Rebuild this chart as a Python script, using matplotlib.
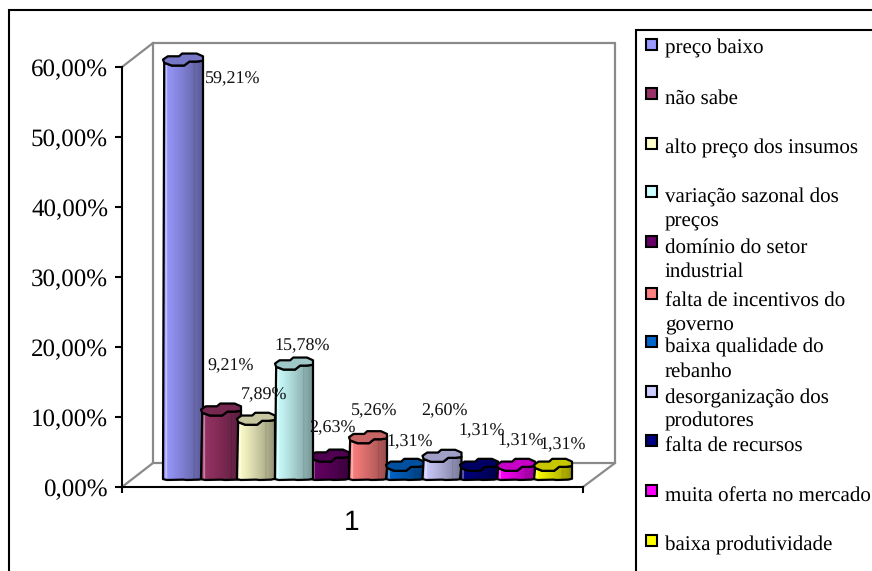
import numpy as np
import matplotlib
matplotlib.use("Agg")
import matplotlib.pyplot as plt
from matplotlib.colors import to_rgb
from matplotlib.patches import Polygon, Rectangle
from matplotlib.ticker import FuncFormatter

# Survey answers and their shares (%)
categories = [
    "preço baixo", "não sabe", "alto preço dos insumos",
    "variação sazonal dos\npreços", "domínio do setor\nindustrial",
    "falta de incentivos do\ngoverno", "baixa qualidade do\nrebanho",
    "desorganização dos\nprodutores", "falta de recursos",
    "muita oferta no mercado", "baixa produtividade",
]
values = [59.21, 9.21, 7.89, 15.78, 2.63, 5.26, 1.31, 2.60, 1.31, 1.31, 1.31]
colors = ["#9999FF", "#993366", "#FFFFCC", "#CCFFFF", "#660066", "#FF8080",
          "#0066CC", "#CCCCFF", "#000080", "#FF00FF", "#FFFF00"]
y_ticks = [0, 10, 20, 30, 40, 50, 60]
x_group = "1"

# Layout, in figure pixels
W, H = 872, 571
DPI = 100
X0, X1 = 122, 583        # front edge of the floor
Y0, Y60 = 487, 67        # 0 % and 60 % on the value axis
PX_PER_UNIT = (Y0 - Y60) / 60
Y_HEADROOM = 66          # axes reach above 60 % so the tallest cylinder is not cut
WALL_X0, WALL_X1, WALL_Y0, WALL_Y1 = 153, 615, 463, 43
bar_centers = [183, 221, 256, 294, 330, 368, 405, 442, 479, 516, 553]
bar_widths = [40, 40, 38, 38, 38, 38, 38, 39, 38, 38, 38]
draw_order = [0, 1, 2, 4, 3, 5, 6, 7, 8, 9, 10]
label_pos = [(205, 79), (207, 366), (241, 395), (274, 346), (309, 428), (351, 411),
             (386, 442), (421, 411), (458, 431), (497, 441), (539, 445)]
swatch_y = [44, 93, 143, 191, 241, 293, 341, 391, 440, 490, 540]
text_y = [54, 104, 154, 203, 253, 306, 353, 403, 451, 501, 551]
LINE_STEP = 24

plt.rcParams["font.family"] = ["Liberation Serif", "DejaVu Serif"]
plt.rcParams["text.hinting"] = "none"
plt.rcParams["text.hinting_factor"] = 1
fig = plt.figure(figsize=(W / DPI, H / DPI), dpi=DPI, facecolor="white")

# Pixel-unit layer: outer frame, back wall and legend
px = fig.add_axes([0, 0, 1, 1], zorder=1)
px.set_xlim(0, W)
px.set_ylim(H, 0)
px.axis("off")
for xs, ys in [([9, 9, W], [H, 10, 10]), ([636, 636, W], [H, 30, 30])]:
    px.plot(xs, ys, color="black", lw=1.5, solid_capstyle="butt", solid_joinstyle="miter")
wall = "#8a8a8a"
for xs, ys in [
    ([X0, WALL_X0, WALL_X1, WALL_X1, X1], [Y60, WALL_Y1, WALL_Y1, WALL_Y0, Y0]),
    ([X0, WALL_X0, WALL_X0], [Y0, WALL_Y0, WALL_Y1]),
    ([WALL_X0, WALL_X1], [WALL_Y0, WALL_Y0]),
]:
    px.plot(xs, ys, color=wall, lw=1.6, solid_joinstyle="miter")

for sy, ty, name, col in zip(swatch_y, text_y, categories, colors):
    px.add_patch(Rectangle((646, sy - 5.5), 11, 11, fc=col, ec="black", lw=1.5))
    for i, line in enumerate(name.split("\n")):
        px.text(665, ty + i * LINE_STEP, line, fontsize=14.8, va="baseline", ha="left")

# Value axis: x in pixels along the floor, y in percent
top_px = Y0 - Y_HEADROOM * PX_PER_UNIT
ax = fig.add_axes([X0 / W, 1 - Y0 / H, (X1 - X0) / W, (Y0 - top_px) / H], zorder=2)
ax.patch.set_alpha(0)
ax.set_xlim(X0, X1)
ax.set_ylim(0, Y_HEADROOM)
ax.set_autoscale_on(False)
for side in ("top", "right"):
    ax.spines[side].set_visible(False)
for side in ("left", "bottom"):
    ax.spines[side].set_linewidth(1.5)
ax.spines["left"].set_bounds(0, 60)
ax.set_yticks(y_ticks)
ax.yaxis.set_major_formatter(FuncFormatter(lambda v, _: f"{v:.2f}".replace(".", ",") + "%"))
ax.tick_params(axis="y", length=5, width=1.5, pad=5, labelsize=18)
ax.set_xticks([X0, X1], labels=["", ""])
ax.set_xticks([(X0 + X1) / 2 - 1], labels=[x_group], minor=True)
ax.tick_params(axis="x", which="major", length=4.5, width=1.5)
ax.tick_params(axis="x", which="minor", length=0, pad=16, labelsize=20)
for lab in ax.get_xticklabels(minor=True):
    lab.set_family("Liberation Sans")

# Lumpy cylinder outlines: (fraction of width, fraction of the top's depth)
top_back = [(0, .5), (.12, .77), (.4, .77), (.48, 1), (.84, 1), (1, .77)]
top_front = [(1, .4), (.84, .33), (.66, .33), (.53, 0), (.22, 0), (.03, .23)]
foot = [(1, .35), (.9, .1), (.6, 0), (.5, .1), (.1, 0), (0, .25)]
BASE = 1.0                # bars stand one unit in from the front edge
DEPTH = 12 / PX_PER_UNIT  # height of the top face in percent units


def shade(col, u):
    """Side colour across the cylinder, u from 0 (left) to 1 (right)."""
    f = 1.0 - 0.42 * u ** 1.2
    rgb = np.array(to_rgb(col)) * f
    if abs(u - 0.08) < 0.02:
        rgb = rgb + (1 - rgb) * 0.45
    if abs(u - 0.76) < 0.012:
        rgb = rgb * 0.85
    return rgb


for z, idx in enumerate(draw_order):
    v, col = values[idx], colors[idx]
    c, w = bar_centers[idx], bar_widths[idx]
    left = c - w / 2
    top = BASE + v
    fr = [(left + u * w, top + d * DEPTH) for u, d in top_front]
    bt = [(left + u * w, BASE + d * DEPTH * 0.3) for u, d in reversed(foot)]
    body = Polygon(bt + fr, closed=True, fc="none", ec="none", zorder=3 + z, clip_on=False)
    ax.add_patch(body)
    grad = np.array([[shade(col, u) for u in np.linspace(0, 1, 100)]])
    im = ax.imshow(grad, extent=(left, left + w, BASE - 1, top + DEPTH), aspect="auto",
                   interpolation="bilinear", zorder=3 + z)
    im.set_clip_path(body)
    ax.add_patch(Polygon(bt + fr, closed=True, fc="none", ec="black", lw=1.6, zorder=3 + z,
                         clip_on=False, joinstyle="round"))
    outline = fr + [(left + u * w, top + d * DEPTH) for u, d in top_back]
    ax.add_patch(Polygon(outline, closed=True, fc=np.array(to_rgb(col)) * 0.78, ec="black",
                         lw=1.6, zorder=3 + z, clip_on=False, joinstyle="round"))

# Data labels sit in their own layer above the bars
label_layer = fig.add_axes([0, 0, 1, 1], zorder=3)
label_layer.set_xlim(0, W)
label_layer.set_ylim(H, 0)
label_layer.axis("off")
for v, (lx, ly) in zip(values, label_pos):
    label_layer.text(lx, ly, f"{v:.2f}".replace(".", ",") + "%", fontsize=13.2,
                     va="center", ha="left", color="#111111")

fig.savefig("out.png", dpi=DPI, facecolor="white")
